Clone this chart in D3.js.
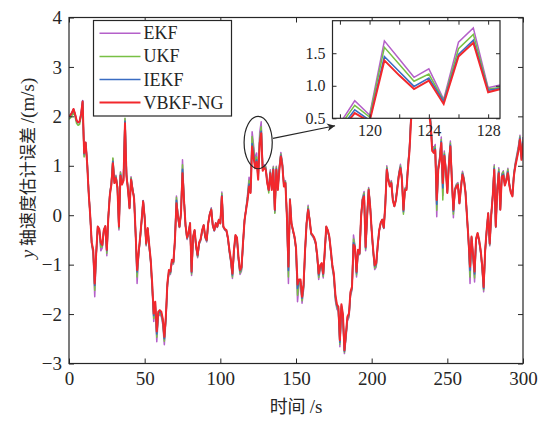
<!DOCTYPE html>
<html>
<head>
<meta charset="utf-8">
<script src="https://cdn.jsdelivr.net/npm/d3@7"></script>
<style>
  body { margin: 0; background: #fff; }
  svg text { fill: #262626; }
</style>
</head>
<body>
<svg id="chart" width="549" height="422"></svg>
<script>
// time axis, one sample per second
const seconds = d3.range(0, 301);

// y-axis velocity estimation error (m/s) for each filter
const ekf = [
  2.00,2.03,2.08,2.15,2.05,1.92,1.88,1.90,2.05,2.32,
  1.20,1.47,1.08,0.49,0.00,-0.59,-0.80,-1.65,-0.79,-0.24,
  -0.30,-0.72,-0.66,-0.32,-0.24,-0.82,-0.03,0.44,0.67,1.14,
  0.70,0.81,0.59,-0.30,0.88,0.67,0.76,1.95,0.84,0.55,
  0.15,0.78,0.55,0.37,-0.38,-1.38,-0.81,-0.49,-0.11,0.30,
  -0.05,-0.62,-0.28,-0.65,-0.97,-1.51,-2.15,-1.85,-2.56,-2.05,
  -2.00,-2.05,-2.22,-2.62,-2.14,-1.45,-1.17,-1.20,-0.95,-0.99,
  -0.53,0.39,-0.03,-0.25,0.04,1.12,0.33,-0.22,-0.49,-0.38,
  -0.17,-1.22,-0.46,-0.32,-0.67,-0.86,-0.59,-0.52,-0.32,-0.22,
  -0.46,-0.54,-0.17,0.02,0.15,-0.22,-0.32,-0.17,-0.25,-0.10,
  -0.17,0.47,-0.25,-0.30,-0.32,-0.49,-0.76,-0.97,-1.28,-0.76,
  -0.43,-0.49,-0.92,-1.20,-1.13,-0.59,-0.11,0.14,0.42,0.77,
  0.55,1.69,1.41,1.13,1.26,0.79,1.67,1.89,0.97,1.02,
  0.99,0.70,0.50,0.92,0.55,0.99,0.05,0.99,0.55,0.99,
  1.27,1.07,0.63,0.70,-0.03,-1.38,0.33,-0.17,-0.32,-0.46,
  -0.70,-1.75,-1.40,-1.40,-1.78,-1.51,-0.76,-0.17,0.20,-0.10,
  -0.39,-0.43,-0.49,-0.59,-0.86,-1.30,-1.09,-1.05,-1.27,-0.78,
  -0.25,-0.32,-0.46,-0.76,-1.08,-1.27,-1.73,-1.90,-1.95,-2.66,
  -1.88,-2.10,-2.80,-2.50,-2.14,-2.07,-1.63,-1.52,-0.40,-0.62,
  -1.25,-0.72,-0.80,-0.01,0.36,0.48,-0.72,-0.03,0.56,0.19,
  -0.32,-0.76,-1.10,-1.05,-0.65,-0.32,-0.16,-0.10,-0.27,0.22,
  1.00,0.76,0.63,0.70,0.32,0.19,0.32,0.59,0.86,1.03,
  0.78,0.05,0.55,0.55,1.03,1.40,2.05,2.59,3.13,3.24,
  2.92,3.13,3.35,3.02,2.81,2.92,2.59,2.27,2.21,1.94,
  1.40,1.36,1.43,-0.03,0.99,1.19,1.58,0.40,1.30,0.97,
  0.49,1.08,1.50,0.76,-0.05,0.54,0.63,0.66,0.26,0.59,
  0.89,0.76,0.49,-0.03,-0.54,-1.38,-0.46,-0.86,-1.35,-0.51,
  -0.39,-0.54,-0.76,-1.08,-1.55,-0.76,-0.32,0.04,-0.62,0.00,
  0.41,1.02,-0.25,0.55,0.96,0.12,0.84,0.90,0.65,0.76,
  0.95,0.65,0.49,0.41,0.86,1.08,1.24,1.40,1.62,1.21,
  1.58
];

const ukf = [
  1.94,1.97,2.02,2.09,1.99,1.86,1.82,1.84,2.00,2.28,
  1.18,1.45,1.07,0.47,0.00,-0.58,-0.76,-1.52,-0.77,-0.24,
  -0.29,-0.65,-0.63,-0.31,-0.23,-0.77,-0.03,0.43,0.65,1.16,
  0.68,0.79,0.58,-0.27,0.86,0.65,0.74,1.96,0.82,0.54,
  0.15,0.76,0.54,0.36,-0.37,-1.25,-0.79,-0.47,-0.11,0.29,
  -0.05,-0.60,-0.27,-0.63,-0.95,-1.47,-2.09,-1.82,-2.47,-2.02,
  -1.98,-2.02,-2.18,-2.55,-2.10,-1.42,-1.15,-1.18,-0.93,-0.97,
  -0.52,0.36,-0.03,-0.24,0.04,1.02,0.32,-0.21,-0.47,-0.37,
  -0.17,-1.19,-0.45,-0.31,-0.65,-0.84,-0.58,-0.50,-0.31,-0.21,
  -0.45,-0.52,-0.17,0.02,0.13,-0.21,-0.31,-0.17,-0.24,-0.09,
  -0.17,0.44,-0.24,-0.29,-0.31,-0.47,-0.74,-0.95,-1.25,-0.74,
  -0.42,-0.47,-0.89,-1.17,-1.10,-0.58,-0.11,0.13,0.38,0.70,
  0.52,1.59,1.33,1.07,1.18,0.77,1.57,1.79,0.95,0.98,
  0.97,0.68,0.45,0.89,0.54,0.97,0.04,0.97,0.54,0.97,
  1.24,1.04,0.61,0.68,-0.03,-1.25,0.33,-0.17,-0.31,-0.45,
  -0.68,-1.62,-1.37,-1.37,-1.73,-1.47,-0.74,-0.17,0.17,-0.09,
  -0.38,-0.42,-0.47,-0.58,-0.84,-1.26,-1.06,-1.02,-1.24,-0.76,
  -0.24,-0.31,-0.45,-0.74,-1.05,-1.24,-1.68,-1.86,-1.91,-2.61,
  -1.85,-2.06,-2.77,-2.46,-2.10,-2.04,-1.60,-1.49,-0.48,-0.63,
  -1.21,-0.71,-0.79,-0.02,0.34,0.45,-0.69,-0.03,0.54,0.19,
  -0.31,-0.74,-1.07,-1.02,-0.63,-0.31,-0.16,-0.09,-0.26,0.21,
  0.97,0.74,0.61,0.68,0.32,0.19,0.32,0.58,0.84,1.00,
  0.76,0.02,0.54,0.54,1.00,1.37,2.00,2.52,3.05,3.15,
  2.84,3.05,3.26,2.94,2.73,2.84,2.52,2.21,2.15,1.89,
  1.37,1.32,1.39,0.10,0.97,1.16,1.53,0.31,1.26,0.95,
  0.47,1.05,1.46,0.74,0.02,0.53,0.61,0.64,0.25,0.58,
  0.86,0.74,0.47,-0.03,-0.52,-1.25,-0.45,-0.84,-1.27,-0.49,
  -0.38,-0.52,-0.74,-1.05,-1.51,-0.74,-0.31,0.04,-0.60,0.00,
  0.40,0.99,-0.24,0.54,0.93,0.12,0.82,0.88,0.63,0.74,
  0.93,0.63,0.47,0.40,0.84,1.05,1.21,1.37,1.59,1.18,
  1.53
];

const iekf = [
  1.99,2.02,2.07,2.14,2.04,1.91,1.87,1.89,2.04,2.31,
  1.24,1.47,1.06,0.46,0.00,-0.56,-0.72,-1.42,-0.76,-0.23,
  -0.28,-0.58,-0.61,-0.30,-0.22,-0.72,-0.03,0.42,0.63,1.09,
  0.66,0.77,0.56,-0.24,0.82,0.63,0.71,1.90,0.80,0.52,
  0.14,0.73,0.52,0.35,-0.36,-1.15,-0.77,-0.46,-0.10,0.29,
  -0.05,-0.58,-0.27,-0.61,-0.92,-1.43,-2.03,-1.78,-2.40,-1.98,
  -1.95,-1.98,-2.13,-2.50,-2.07,-1.40,-1.13,-1.16,-0.91,-0.95,
  -0.51,0.30,-0.03,-0.23,0.04,0.93,0.31,-0.20,-0.46,-0.36,
  -0.16,-1.16,-0.44,-0.31,-0.63,-0.82,-0.56,-0.49,-0.31,-0.20,
  -0.44,-0.51,-0.16,0.02,0.12,-0.20,-0.31,-0.16,-0.23,-0.09,
  -0.16,0.40,-0.23,-0.29,-0.31,-0.46,-0.71,-0.92,-1.21,-0.71,
  -0.41,-0.46,-0.87,-1.13,-1.07,-0.56,-0.10,0.12,0.33,0.63,
  0.47,1.45,1.22,0.99,1.12,0.76,1.48,1.70,0.93,0.97,
  0.94,0.66,0.50,0.87,0.52,0.94,0.09,0.94,0.52,0.94,
  1.21,1.01,0.59,0.66,-0.03,-1.12,0.32,-0.16,-0.31,-0.44,
  -0.66,-1.48,-1.33,-1.33,-1.68,-1.43,-0.71,-0.16,0.13,-0.09,
  -0.37,-0.41,-0.46,-0.56,-0.82,-1.21,-1.03,-0.99,-1.20,-0.73,
  -0.23,-0.31,-0.44,-0.71,-1.02,-1.20,-1.63,-1.83,-1.88,-2.57,
  -1.83,-2.03,-2.75,-2.42,-2.07,-2.01,-1.57,-1.47,-0.56,-0.64,
  -1.17,-0.70,-0.78,-0.03,0.32,0.41,-0.66,-0.03,0.52,0.18,
  -0.31,-0.71,-1.03,-0.99,-0.61,-0.31,-0.15,-0.09,-0.26,0.20,
  0.94,0.71,0.59,0.66,0.31,0.18,0.31,0.56,0.82,0.97,
  0.73,0.08,0.52,0.52,0.97,1.33,1.94,2.45,2.96,3.06,
  2.75,2.96,3.16,2.86,2.65,2.75,2.45,2.14,2.09,1.84,
  1.33,1.29,1.35,0.22,0.94,1.12,1.49,0.55,1.22,0.92,
  0.46,1.02,1.42,0.71,0.08,0.51,0.59,0.62,0.24,0.56,
  0.84,0.71,0.46,-0.03,-0.51,-1.12,-0.44,-0.82,-1.19,-0.48,
  -0.37,-0.51,-0.71,-1.02,-1.48,-0.71,-0.31,0.04,-0.58,0.00,
  0.39,0.95,-0.23,0.52,0.88,0.11,0.80,0.83,0.61,0.71,
  0.88,0.61,0.46,0.39,0.82,1.02,1.17,1.33,1.56,1.14,
  1.49
];

const vbkfNg = [
  2.00,2.03,2.08,2.15,2.05,1.92,1.88,1.90,2.05,2.30,
  1.26,1.47,1.05,0.45,0.00,-0.55,-0.70,-1.38,-0.75,-0.23,
  -0.28,-0.55,-0.60,-0.30,-0.22,-0.70,-0.03,0.41,0.62,1.05,
  0.65,0.75,0.55,-0.23,0.80,0.62,0.70,1.86,0.78,0.51,
  0.14,0.72,0.51,0.34,-0.35,-1.11,-0.75,-0.45,-0.10,0.28,
  -0.05,-0.57,-0.26,-0.60,-0.90,-1.40,-1.99,-1.75,-2.35,-1.95,
  -1.92,-1.95,-2.10,-2.46,-2.05,-1.38,-1.11,-1.14,-0.90,-0.94,
  -0.50,0.24,-0.03,-0.23,0.04,0.85,0.30,-0.20,-0.45,-0.35,
  -0.16,-1.14,-0.43,-0.30,-0.62,-0.80,-0.55,-0.48,-0.30,-0.20,
  -0.43,-0.50,-0.16,0.02,0.11,-0.20,-0.30,-0.16,-0.23,-0.09,
  -0.16,0.38,-0.23,-0.28,-0.30,-0.45,-0.70,-0.90,-1.18,-0.70,
  -0.40,-0.45,-0.85,-1.11,-1.05,-0.55,-0.10,0.11,0.30,0.58,
  0.45,1.39,1.16,0.95,1.08,0.72,1.45,1.66,0.90,0.96,
  0.92,0.65,0.51,0.85,0.51,0.92,0.11,0.92,0.51,0.92,
  1.19,0.99,0.58,0.65,-0.03,-1.04,0.31,-0.16,-0.30,-0.43,
  -0.65,-1.40,-1.30,-1.30,-1.65,-1.40,-0.70,-0.16,0.11,-0.09,
  -0.36,-0.40,-0.45,-0.55,-0.80,-1.18,-1.01,-0.97,-1.18,-0.72,
  -0.23,-0.30,-0.43,-0.70,-1.00,-1.18,-1.60,-1.80,-1.85,-2.53,
  -1.80,-2.00,-2.73,-2.39,-2.05,-1.99,-1.55,-1.45,-0.60,-0.65,
  -1.14,-0.70,-0.77,-0.03,0.31,0.38,-0.64,-0.03,0.51,0.18,
  -0.30,-0.70,-1.01,-0.97,-0.60,-0.30,-0.15,-0.09,-0.25,0.20,
  0.92,0.70,0.58,0.65,0.30,0.18,0.30,0.55,0.80,0.95,
  0.72,0.11,0.51,0.51,0.95,1.30,1.90,2.40,2.90,3.00,
  2.70,2.90,3.10,2.80,2.60,2.70,2.40,2.10,2.05,1.80,
  1.30,1.26,1.32,0.31,0.92,1.10,1.46,0.65,1.20,0.90,
  0.45,1.00,1.39,0.70,0.11,0.50,0.58,0.61,0.24,0.55,
  0.82,0.70,0.45,-0.03,-0.50,-1.04,-0.43,-0.80,-1.14,-0.47,
  -0.36,-0.50,-0.70,-1.00,-1.45,-0.70,-0.30,0.04,-0.57,0.00,
  0.38,0.92,-0.23,0.51,0.85,0.11,0.78,0.80,0.60,0.70,
  0.85,0.60,0.45,0.38,0.80,1.00,1.15,1.30,1.53,1.12,
  1.46
];

const seriesNames = ["EKF", "UKF", "IEKF", "VBKF-NG"];
const seriesColors = ["#b460c9", "#78c044", "#3a6cc2", "#f2282c"];
const seriesWidths = [1.5, 1.5, 1.6, 2.0];
const seriesValues = [ekf, ukf, iekf, vbkfNg];

const xTicks = [0, 50, 100, 150, 200, 250, 300];
const yTicks = [-3, -2, -1, 0, 1, 2, 3, 4];
const insetXTicks = [118, 120, 122, 124, 126, 128];
const insetXLabels = [120, 124, 128];
const insetYTicks = [0.5, 1.0, 1.5];

const ink = "#262626";
const serif = "'Liberation Serif', 'Times New Roman', serif";
const cjk = "'Noto Sans CJK SC', sans-serif";

const svg = d3.select("#chart");
const defs = svg.append("defs");

// main axes
const plot = { left: 69, right: 523, top: 17.5, bottom: 363.5 };
const x = d3.scaleLinear().domain([0, 300]).range([plot.left, plot.right]);
const y = d3.scaleLinear().domain([-3, 4]).range([plot.bottom, plot.top]);

defs.append("clipPath").attr("id", "plotClip")
  .append("rect")
  .attr("x", plot.left).attr("y", plot.top)
  .attr("width", plot.right - plot.left).attr("height", plot.bottom - plot.top);

const line = d3.line()
  .x((d, i) => x(seconds[i]))
  .y(d => y(d));

const mainLines = svg.append("g").attr("clip-path", "url(#plotClip)");
seriesValues.forEach((vals, k) => {
  mainLines.append("path")
    .datum(vals)
    .attr("d", line)
    .attr("fill", "none")
    .attr("stroke", seriesColors[k])
    .attr("stroke-width", seriesWidths[k])
    .attr("stroke-linejoin", "round");
});

function styleAxis(g, size) {
  g.select(".domain").remove();
  g.selectAll(".tick line").attr("stroke", ink).attr("stroke-width", 1);
  g.selectAll(".tick text")
    .attr("fill", ink)
    .style("font-family", serif)
    .style("font-size", size + "px");
}

const intFmt = d3.format("d");

svg.append("g")
  .attr("transform", `translate(0,${plot.bottom})`)
  .call(d3.axisBottom(x).tickValues(xTicks).tickFormat(intFmt)
    .tickSizeInner(-5).tickSizeOuter(0).tickPadding(8))
  .call(g => styleAxis(g, 19));
svg.append("g")
  .attr("transform", `translate(0,${plot.top})`)
  .call(d3.axisTop(x).tickValues(xTicks).tickSizeInner(-5).tickSizeOuter(0).tickFormat(""))
  .call(g => styleAxis(g, 19));
svg.append("g")
  .attr("transform", `translate(${plot.left},0)`)
  .call(d3.axisLeft(y).tickValues(yTicks).tickFormat(intFmt)
    .tickSizeInner(-5).tickSizeOuter(0).tickPadding(7))
  .call(g => styleAxis(g, 19));
svg.append("g")
  .attr("transform", `translate(${plot.right},0)`)
  .call(d3.axisRight(y).tickValues(yTicks).tickSizeInner(-5).tickSizeOuter(0).tickFormat(""))
  .call(g => styleAxis(g, 19));

svg.append("rect")
  .attr("x", plot.left).attr("y", plot.top)
  .attr("width", plot.right - plot.left).attr("height", plot.bottom - plot.top)
  .attr("fill", "none").attr("stroke", ink).attr("stroke-width", 1.2);

// axis titles
svg.append("text")
  .attr("x", (plot.left + plot.right) / 2)
  .attr("y", 413)
  .attr("text-anchor", "middle")
  .call(t => {
    t.append("tspan").style("font-family", cjk).style("font-size", "18px").text("时间 ");
    t.append("tspan").style("font-family", serif).style("font-size", "19px").text("/s");
  });

svg.append("text")
  .attr("transform", "translate(34,168) rotate(-90)")
  .attr("text-anchor", "middle")
  .call(t => {
    t.append("tspan").style("font-family", serif).style("font-style", "italic").style("font-size", "19px").text("y");
    t.append("tspan").style("font-family", cjk).style("font-size", "17px").text(" 轴速度估计误差 ");
    t.append("tspan").style("font-family", serif).style("font-size", "19px").text("/(m/s)");
  });

// zoom marker around the 120–128 s segment
const markCenterT = 125, markCenterV = 1.47;
svg.append("ellipse")
  .attr("cx", x(markCenterT))
  .attr("cy", y(markCenterV))
  .attr("rx", x(markCenterT + 9.3) - x(markCenterT))
  .attr("ry", y(markCenterV - 0.53) - y(markCenterV))
  .attr("fill", "none").attr("stroke", ink).attr("stroke-width", 1.2);

defs.append("marker")
  .attr("id", "arrowHead")
  .attr("viewBox", "0 0 10 10")
  .attr("refX", 10).attr("refY", 5)
  .attr("markerWidth", 11).attr("markerHeight", 8)
  .attr("markerUnits", "userSpaceOnUse")
  .attr("orient", "auto")
  .append("path").attr("d", "M0,0 L10,5 L0,10 L3,5 Z").attr("fill", ink);

svg.append("line")
  .attr("x1", x(134.8)).attr("y1", y(1.556))
  .attr("x2", x(175.8)).attr("y2", y(1.81))
  .attr("stroke", ink).attr("stroke-width", 1.2)
  .attr("marker-end", "url(#arrowHead)");

// legend
const legend = svg.append("g");
legend.append("rect")
  .attr("x", 93.5).attr("y", 20.5).attr("width", 138).attr("height", 95.5)
  .attr("fill", "#fff").attr("stroke", ink).attr("stroke-width", 1.2);
seriesNames.forEach((name, k) => {
  const ly = 33.3 + k * 23.1;
  legend.append("line")
    .attr("x1", 99.5).attr("x2", 140.5).attr("y1", ly).attr("y2", ly)
    .attr("stroke", seriesColors[k]).attr("stroke-width", seriesWidths[k]);
  legend.append("text")
    .attr("x", 143.5).attr("y", ly + 6)
    .style("font-family", serif).style("font-size", "18px")
    .text(name);
});

// inset: enlarged view of 117.5–128.8 s
const inset = { left: 332.5, right: 500, top: 20.7, bottom: 118.3 };
const ix = d3.scaleLinear().domain([117.5, 128.8]).range([inset.left, inset.right]);
const iy = d3.scaleLinear().domain([0.5, 2.0]).range([inset.bottom, inset.top]);

svg.append("rect")
  .attr("x", inset.left).attr("y", inset.top)
  .attr("width", inset.right - inset.left).attr("height", inset.bottom - inset.top)
  .attr("fill", "#fff");

defs.append("clipPath").attr("id", "insetClip")
  .append("rect")
  .attr("x", inset.left).attr("y", inset.top)
  .attr("width", inset.right - inset.left).attr("height", inset.bottom - inset.top);

const insetLine = d3.line()
  .x((d, i) => ix(seconds[i]))
  .y(d => iy(d));

const insetLines = svg.append("g").attr("clip-path", "url(#insetClip)");
seriesValues.forEach((vals, k) => {
  insetLines.append("path")
    .datum(vals)
    .attr("d", insetLine)
    .attr("fill", "none")
    .attr("stroke", seriesColors[k])
    .attr("stroke-width", seriesWidths[k])
    .attr("stroke-linejoin", "miter");
});

svg.append("g")
  .attr("transform", `translate(0,${inset.bottom})`)
  .call(d3.axisBottom(ix).tickValues(insetXTicks).tickSizeInner(-4).tickSizeOuter(0).tickPadding(6)
    .tickFormat(d => insetXLabels.includes(d) ? d : ""))
  .call(g => styleAxis(g, 16));
svg.append("g")
  .attr("transform", `translate(0,${inset.top})`)
  .call(d3.axisTop(ix).tickValues(insetXTicks).tickSizeInner(-4).tickSizeOuter(0).tickFormat(""))
  .call(g => styleAxis(g, 16));
svg.append("g")
  .attr("transform", `translate(${inset.left},0)`)
  .call(d3.axisLeft(iy).tickValues(insetYTicks).tickSizeInner(-4).tickSizeOuter(0).tickPadding(7)
    .tickFormat(d3.format(".1f")))
  .call(g => styleAxis(g, 16));
svg.append("g")
  .attr("transform", `translate(${inset.right},0)`)
  .call(d3.axisRight(iy).tickValues(insetYTicks).tickSizeInner(-4).tickSizeOuter(0).tickFormat(""))
  .call(g => styleAxis(g, 16));

svg.append("rect")
  .attr("x", inset.left).attr("y", inset.top)
  .attr("width", inset.right - inset.left).attr("height", inset.bottom - inset.top)
  .attr("fill", "none").attr("stroke", ink).attr("stroke-width", 1.2);
</script>
</body>
</html>
